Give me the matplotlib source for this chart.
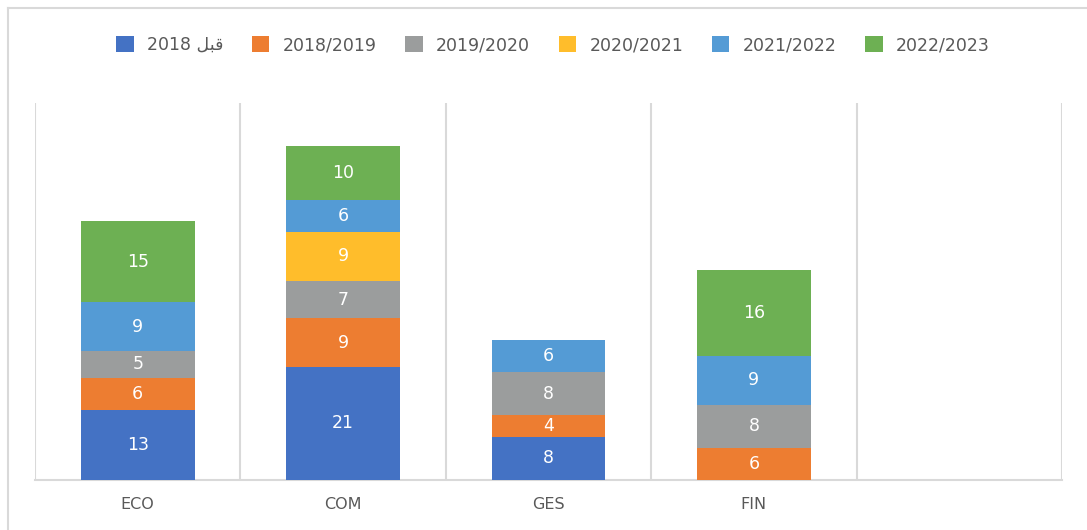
import numpy as np
import matplotlib.pyplot as plt
from matplotlib.patches import Patch
from matplotlib.lines import Line2D

# categories and series
categories = ['ECO', 'COM', 'GES', 'FIN', '']
# "قبل 2018" written in visual order with presentation forms (matplotlib has no bidi shaping)
series_names = ['2018 \uFEDE\uFE92\uFED7', '2018/2019', '2019/2020', '2020/2021', '2021/2022', '2022/2023']
before_2018 = [13, 21, 8, 0, 0]
y_2018_2019 = [6, 9, 4, 6, 0]
y_2019_2020 = [5, 7, 8, 8, 0]
y_2020_2021 = [0, 9, 0, 0, 0]
y_2021_2022 = [9, 6, 6, 9, 0]
y_2022_2023 = [15, 10, 0, 16, 0]
colors = ['#4472C4', '#ED7D31', '#9B9D9D', '#FFBD2B', '#549BD5', '#6DB053']

series = [before_2018, y_2018_2019, y_2019_2020, y_2020_2021, y_2021_2022, y_2022_2023]

fig = plt.figure(figsize=(10.87, 5.30), dpi=100)
ax = fig.add_axes([35 / 1087, 50 / 530, 1027 / 1087, 377 / 530])

x = np.arange(len(categories))
bottom = np.zeros(len(categories))
for vals, col in zip(series, colors):
    vals = np.array(vals, dtype=float)
    ax.bar(x, vals, width=0.555, bottom=bottom, color=col, zorder=3)
    for xi, v, b in zip(x, vals, bottom):
        if v > 0:
            ax.text(xi, b + v / 2, f'{int(v)}', ha='center', va='center',
                    color='white', fontsize=12.5, zorder=4)
    bottom += vals

ax.set_xlim(-0.5, len(categories) - 0.5)
ax.set_ylim(0, 70)
ax.set_yticks([])
ax.set_xticks(x)
ax.set_xticklabels(categories, color='#595959', fontsize=11.5)
ax.tick_params(axis='x', length=0, pad=12)

# category separators
for b in np.arange(-0.5, len(categories), 1.0):
    ax.axvline(b, color='#d9d9d9', lw=1.5, zorder=1)
for s in ['top', 'left', 'right']:
    ax.spines[s].set_visible(False)
ax.spines['bottom'].set_color('#d9d9d9')
ax.spines['bottom'].set_linewidth(1.5)

handles = [Patch(facecolor=c, edgecolor='none') for c in colors]
fig.legend(handles, series_names, loc='center', bbox_to_anchor=(553 / 1087, 1 - 45 / 530),
           ncol=6, frameon=False, fontsize=12.5, handlelength=1.0, handleheight=1.0,
           handletextpad=0.75, columnspacing=1.67, labelcolor='#595959')

# outer chart border (only left and top are inside the picture)
bx, by = 8 / 1087, 1 - 8 / 530
fig.add_artist(Line2D([bx, bx], [0, by], transform=fig.transFigure, color='#d9d9d9', lw=1.5))
fig.add_artist(Line2D([bx, 1], [by, by], transform=fig.transFigure, color='#d9d9d9', lw=1.5))

fig.savefig('out.png', dpi=100)
